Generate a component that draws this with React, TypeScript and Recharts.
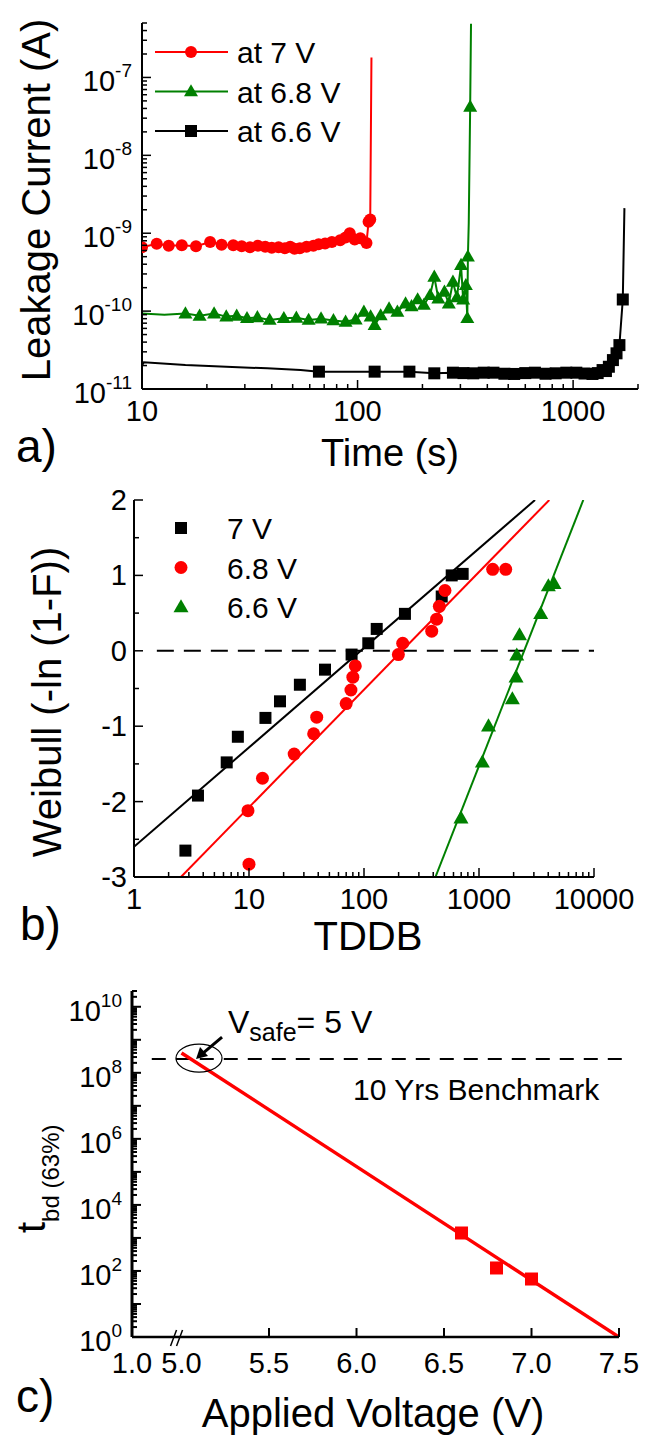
import React from "react";
import {
  ComposedChart,
  Line,
  Scatter,
  XAxis,
  YAxis,
  ReferenceLine,
  ReferenceDot,
} from "recharts";

const FONT = "'Liberation Sans', Arial, sans-serif";
const RED = "#ff0000";
const GREEN = "#008000";
const BLACK = "#000000";

// ---------- (a) leakage current vs stress time ----------
const time7V = [10, 11.7, 13.3, 15.3, 17.8, 20.7, 23.4, 26.5, 29, 31.7, 34.5, 37.3, 40, 43, 46, 48.7, 51, 54, 58, 62.4, 66, 70.7, 76, 83, 88, 92, 97, 103, 110, 112.5, 114.5, 116];
const current7V = [6.6e-10, 7.3e-10, 6.9e-10, 7.0e-10, 6.8e-10, 7.7e-10, 7.1e-10, 7.0e-10, 6.8e-10, 6.6e-10, 6.9e-10, 6.7e-10, 6.5e-10, 6.6e-10, 6.4e-10, 6.7e-10, 6.3e-10, 6.4e-10, 6.7e-10, 6.9e-10, 7.2e-10, 7.4e-10, 7.7e-10, 8.1e-10, 8.8e-10, 1.0e-9, 8.3e-10, 8.6e-10, 7.5e-10, 1.4e-9, 1.5e-9, 1.8e-7];
const bare7V = [116];

const time68V = [10, 12.7, 15.9, 18.5, 21.6, 24.6, 27.5, 30.7, 34.3, 39.1, 45.5, 52, 59.3, 67.7, 77.3, 88, 98, 107, 115, 120, 128, 140, 153, 167, 178, 190, 203, 217, 227, 237, 253, 265, 277, 289, 302, 309, 318, 323, 325, 328, 333, 336];
const current68V = [9.3e-11, 9.0e-11, 9.3e-11, 8.7e-11, 9.3e-11, 8.5e-11, 8.7e-11, 8.1e-11, 8.3e-11, 7.7e-11, 8.1e-11, 8.2e-11, 7.7e-11, 8.0e-11, 7.6e-11, 7.3e-11, 7.8e-11, 9.8e-11, 8.5e-11, 6.6e-11, 8.8e-11, 1.08e-10, 9.8e-11, 1.25e-10, 1.15e-10, 1.41e-10, 1.2e-10, 1.6e-10, 2.75e-10, 1.45e-10, 1.77e-10, 1.25e-10, 2.37e-10, 1.5e-10, 3.9e-10, 1.4e-10, 2.15e-10, 8.1e-11, 5.0e-10, 1.35e-9, 4.2e-8, 4.9e-7];
const bare68V = [10, 12.7, 328, 336];

const time66V = [10, 10.2, 15.9, 24.6, 38.1, 54.4, 66.2, 92, 120, 174, 227, 277, 310, 344, 385, 427, 480, 533, 600, 665, 745, 830, 930, 1035, 1130, 1230, 1300, 1370, 1420, 1465, 1530, 1590, 1640, 1700, 1730];
const current66V = [2.0e-11, 2.2e-11, 2.03e-11, 1.93e-11, 1.84e-11, 1.75e-11, 1.67e-11, 1.67e-11, 1.67e-11, 1.67e-11, 1.59e-11, 1.62e-11, 1.6e-11, 1.59e-11, 1.62e-11, 1.62e-11, 1.57e-11, 1.56e-11, 1.6e-11, 1.62e-11, 1.57e-11, 1.59e-11, 1.62e-11, 1.62e-11, 1.58e-11, 1.56e-11, 1.6e-11, 1.75e-11, 1.7e-11, 1.93e-11, 2.35e-11, 2.87e-11, 3.66e-11, 1.41e-10, 2.1e-9];
const bare66V = [10, 10.2, 15.9, 24.6, 38.1, 54.4, 92, 1730];

// ---------- (b) Weibull plot of TDDB ----------
const tddb7V = [2.8, 3.6, 6.4, 8.0, 13.9, 18.6, 27.7, 45.8, 78, 109, 129, 227, 474, 579, 721];
const weibull7V = [-2.65, -1.92, -1.48, -1.14, -0.89, -0.67, -0.45, -0.25, -0.05, 0.1, 0.29, 0.49, 0.72, 1.0, 1.02];
const fitTddb7V = [1, 3070];
const fitWeibull7V = [-2.6, 2];

const tddb68V = [10, 9.8, 13.1, 24.7, 36.5, 38.8, 70, 77, 80, 84, 199, 217, 388, 428, 452, 506, 1315, 1707];
const weibull68V = [-2.83, -2.12, -1.69, -1.37, -1.1, -0.88, -0.7, -0.52, -0.35, -0.2, -0.05, 0.1, 0.26, 0.42, 0.59, 0.8, 1.08, 1.08];
const fitTddb68V = [2.56, 4085];
const fitWeibull68V = [-3, 2];

const tddb66V = [697, 1070, 1210, 1950, 2100, 2130, 2250, 3440, 4010, 4490];
const weibull66V = [-2.22, -1.48, -1.0, -0.64, -0.35, -0.06, 0.21, 0.49, 0.86, 0.89];
const fitTddb66V = [418, 8070];
const fitWeibull66V = [-3, 2];

// ---------- (c) lifetime extrapolation ----------
const fitVoltage = [5.0, 7.5];
const fitLifetime = [4e8, 1];
const measVoltage = [6.6, 6.8, 7.0];
const measLifetime = [1410, 123, 57];
const benchmarkLifetime = 2.6e8;
const vsafeVoltage = 5.1;
const vsafeLifetime = 2.8e8;
const cXTicks = [4.717, 5.0, 5.5, 6.0, 6.5, 7.0, 7.5];
const cXTickLabels = ["1.0", "5.0", "5.5", "6.0", "6.5", "7.0", "7.5"];

const aSeries = [
  { name: "at 7 V", color: RED, shape: "circle", time: time7V, current: current7V, bare: bare7V },
  { name: "at 6.8 V", color: GREEN, shape: "triangle", time: time68V, current: current68V, bare: bare68V },
  { name: "at 6.6 V", color: BLACK, shape: "square", time: time66V, current: current66V, bare: bare66V },
];

const bSeries = [
  { name: "7 V", color: BLACK, shape: "square", tddb: tddb7V, weibull: weibull7V, fitT: fitTddb7V, fitW: fitWeibull7V },
  { name: "6.8 V", color: RED, shape: "circle", tddb: tddb68V, weibull: weibull68V, fitT: fitTddb68V, fitW: fitWeibull68V },
  { name: "6.6 V", color: GREEN, shape: "triangle", tddb: tddb66V, weibull: weibull66V, fitT: fitTddb66V, fitW: fitWeibull66V },
];

const aMarkerSize: Record<string, number> = { circle: 12, square: 12, triangle: 14 };
const bMarkerSize: Record<string, number> = { circle: 13, square: 12, triangle: 15 };

function Marker({ shape, cx, cy, size, color }: { shape: string; cx: number; cy: number; size: number; color: string }) {
  if (shape === "circle") return <circle cx={cx} cy={cy} r={size / 2} fill={color} />;
  if (shape === "square")
    return <rect x={cx - size / 2} y={cy - size / 2} width={size} height={size} fill={color} />;
  const h = size * 0.87;
  return (
    <path
      d={`M${cx},${cy - h * 0.6} L${cx + size / 2},${cy + h * 0.4} L${cx - size / 2},${cy + h * 0.4} Z`}
      fill={color}
    />
  );
}

const logTicks = (from: number, to: number, max: number) => {
  const out: number[] = [];
  for (let e = from; e <= to; e++)
    for (let m = 1; m <= 9; m++) {
      const v = m * Math.pow(10, e);
      if (v <= max * 1.0001) out.push(v);
    }
  return out;
};
const isDecade = (v: number) => Math.abs(Math.log10(v) - Math.round(Math.log10(v))) < 1e-6;

function yLogTick(showExp: (e: number) => boolean, width: number) {
  return (p: any) => {
    const v = p.payload.value as number;
    const e = Math.round(Math.log10(v));
    const dec = isDecade(v);
    return (
      <g key={`y-${v}`}>
        <line x1={p.x} y1={p.y} x2={p.x + (dec ? 9 : 5)} y2={p.y} stroke="#000" strokeWidth={width} />
        {dec && showExp(e) ? (
          <text x={p.x - 10} y={p.y + 14} textAnchor="end" fontFamily={FONT} fontSize={29} fill="#000">
            10
            <tspan fontSize={19} dy={-14}>
              {e}
            </tspan>
          </text>
        ) : null}
      </g>
    );
  };
}

function xLogTick(p: any) {
  const v = p.payload.value as number;
  const dec = isDecade(v);
  return (
    <g key={`x-${v}`}>
      <line x1={p.x} y1={p.y} x2={p.x} y2={p.y - (dec ? 9 : 5)} stroke="#000" strokeWidth={1.5} />
      {dec ? (
        <text x={p.x} y={p.y + 32} textAnchor="middle" fontFamily={FONT} fontSize={29} fill="#000">
          {String(Math.round(v))}
        </text>
      ) : null}
    </g>
  );
}

function PanelA() {
  return (
    <ComposedChart width={649} height={440} margin={{ top: 23, right: 11, bottom: 21, left: 0 }}>
      <XAxis
        type="number"
        dataKey="t"
        scale="log"
        domain={[10, 2000]}
        allowDataOverflow
        ticks={logTicks(1, 3, 2000)}
        interval={0}
        tickSize={0}
        tickMargin={0}
        height={30}
        axisLine={{ stroke: "#000", strokeWidth: 2 }}
        tick={xLogTick}
      />
      <YAxis
        type="number"
        dataKey="i"
        scale="log"
        domain={[1e-11, 5e-7]}
        allowDataOverflow
        ticks={logTicks(-11, -7, 5e-7)}
        interval={0}
        tickSize={0}
        tickMargin={0}
        width={142}
        axisLine={{ stroke: "#000", strokeWidth: 2 }}
        tick={yLogTick(() => true, 1.5)}
      />
      {[...aSeries].reverse().map((s) => {
        const skip = new Set(s.bare);
        const data = s.time.map((t, k) => ({ t, i: s.current[k] }));
        return (
          <Line
            key={s.name}
            data={data}
            dataKey="i"
            type="linear"
            stroke={s.color}
            strokeWidth={2}
            isAnimationActive={false}
            dot={(p: any) =>
              skip.has(p.payload.t) ? (
                <g key={`d-${p.index}`} />
              ) : (
                <g key={`d-${p.index}`}>
                  <Marker shape={s.shape} cx={p.cx} cy={p.cy} size={aMarkerSize[s.shape]} color={s.color} />
                </g>
              )
            }
            activeDot={false}
          />
        );
      })}
    </ComposedChart>
  );
}

function bYTick(p: any) {
  const v = p.payload.value as number;
  const major = Number.isInteger(v);
  return (
    <g key={`by-${v}`}>
      <line x1={p.x} y1={p.y} x2={p.x + (major ? 9 : 5)} y2={p.y} stroke="#000" strokeWidth={1.5} />
      {major ? (
        <text x={p.x - 7} y={p.y + 10} textAnchor="end" fontFamily={FONT} fontSize={29} fill="#000">
          {String(v)}
        </text>
      ) : null}
    </g>
  );
}

function PanelB() {
  return (
    <ComposedChart width={649} height={450} margin={{ top: 30, right: 55, bottom: 13, left: 0 }}>
      <XAxis
        type="number"
        dataKey="t"
        scale="log"
        domain={[1, 10000]}
        allowDataOverflow
        ticks={logTicks(0, 4, 10000)}
        interval={0}
        tickSize={0}
        tickMargin={0}
        height={30}
        axisLine={{ stroke: "#000", strokeWidth: 2 }}
        tick={xLogTick}
      />
      <YAxis
        type="number"
        dataKey="w"
        domain={[-3, 2]}
        allowDataOverflow
        ticks={[-3, -2.5, -2, -1.5, -1, -0.5, 0, 0.5, 1, 1.5, 2]}
        interval={0}
        tickSize={0}
        tickMargin={0}
        width={134}
        axisLine={{ stroke: "#000", strokeWidth: 2 }}
        tick={bYTick}
      />
      <ReferenceLine
        segment={[
          { x: 1.58, y: 0 },
          { x: 10000, y: 0 },
        ]}
        stroke="#000"
        strokeWidth={2}
        strokeDasharray="17 10"
      />
      {bSeries.map((s) => (
        <Line
          key={`fit-${s.name}`}
          data={s.fitT.map((t, k) => ({ t, w: s.fitW[k] }))}
          dataKey="w"
          type="linear"
          stroke={s.color}
          strokeWidth={2}
          dot={false}
          activeDot={false}
          isAnimationActive={false}
        />
      ))}
      {bSeries.map((s) => (
        <Scatter
          key={`pts-${s.name}`}
          data={s.tddb.map((t, k) => ({ t, w: s.weibull[k] }))}
          dataKey="w"
          fill={s.color}
          isAnimationActive={false}
          shape={(p: any) => (
            <Marker shape={s.shape} cx={p.cx} cy={p.cy} size={bMarkerSize[s.shape]} color={s.color} />
          )}
        />
      ))}
    </ComposedChart>
  );
}

function cXTick(p: any) {
  const v = p.payload.value as number;
  const k = cXTicks.indexOf(v);
  return (
    <g key={`cx-${v}`}>
      {k >= 2 ? <line x1={p.x} y1={p.y} x2={p.x} y2={p.y - 9} stroke="#000" strokeWidth={2} /> : null}
      {k === 1 ? (
        <g stroke="#000" strokeWidth={1.5}>
          <line x1={p.x - 11} y1={p.y + 9} x2={p.x - 5} y2={p.y - 7} />
          <line x1={p.x - 5} y1={p.y + 9} x2={p.x + 1} y2={p.y - 7} />
        </g>
      ) : null}
      <text x={p.x} y={p.y + 36} textAnchor="middle" fontFamily={FONT} fontSize={29} fill="#000">
        {cXTickLabels[k]}
      </text>
    </g>
  );
}

function PanelC() {
  return (
    <ComposedChart width={649} height={470} margin={{ top: 31, right: 30, bottom: 63, left: 0 }}>
      <XAxis
        type="number"
        dataKey="v"
        domain={[4.717, 7.5]}
        allowDataOverflow
        ticks={cXTicks}
        interval={0}
        tickSize={0}
        tickMargin={0}
        height={30}
        axisLine={{ stroke: "#000", strokeWidth: 2.5 }}
        tick={cXTick}
      />
      <YAxis
        type="number"
        dataKey="tbd"
        scale="log"
        domain={[1, 3e10]}
        allowDataOverflow
        ticks={logTicks(0, 10, 3e10)}
        interval={0}
        tickSize={0}
        tickMargin={0}
        width={132}
        axisLine={{ stroke: "#000", strokeWidth: 3 }}
        tick={yLogTick((e) => e % 2 === 0, 2)}
      />
      <ReferenceLine
        segment={[
          { x: 4.83, y: benchmarkLifetime },
          { x: 7.535, y: benchmarkLifetime },
        ]}
        ifOverflow="visible"
        stroke="#000"
        strokeWidth={2}
        strokeDasharray="14 10"
      />
      <Line
        data={fitVoltage.map((v, k) => ({ v, tbd: fitLifetime[k] }))}
        dataKey="tbd"
        type="linear"
        stroke={RED}
        strokeWidth={3.5}
        dot={false}
        activeDot={false}
        isAnimationActive={false}
      />
      <Scatter
        data={measVoltage.map((v, k) => ({ v, tbd: measLifetime[k] }))}
        dataKey="tbd"
        fill={RED}
        isAnimationActive={false}
        shape={(p: any) => <Marker shape="square" cx={p.cx} cy={p.cy} size={13} color={RED} />}
      />
      <ReferenceDot
        x={vsafeVoltage}
        y={vsafeLifetime}
        shape={(p: any) => (
          <g>
            <ellipse cx={p.cx} cy={p.cy} rx={23} ry={14} fill="none" stroke="#000" strokeWidth={1.2} />
            <line x1={p.cx + 23} y1={p.cy - 21} x2={p.cx + 4} y2={p.cy - 5} stroke="#000" strokeWidth={3} />
            <path
              d={`M${p.cx - 3},${p.cy + 1} L${p.cx + 1},${p.cy - 11} L${p.cx + 9},${p.cy - 2} Z`}
              fill="#000"
            />
          </g>
        )}
      />
    </ComposedChart>
  );
}

function Overlay() {
  const t = { fontFamily: FONT, fill: "#000" };
  return (
    <svg
      width={649}
      height={1437}
      style={{ position: "absolute", left: 0, top: 0, pointerEvents: "none" }}
    >
      {/* (a) legend and titles */}
      {aSeries.map((s, k) => {
        const y = 52 + k * 39.5;
        return (
          <g key={s.name}>
            <line x1={155} y1={y} x2={228} y2={y} stroke={s.color} strokeWidth={2} />
            <Marker shape={s.shape} cx={191} cy={y} size={aMarkerSize[s.shape]} color={s.color} />
            <text x={237} y={y + 11} fontSize={30} {...t}>
              {s.name}
            </text>
          </g>
        );
      })}
      <text transform="translate(50,200) rotate(-90)" textAnchor="middle" fontSize={40} {...t}>
        Leakage Current (A)
      </text>
      <text x={390} y={466} textAnchor="middle" fontSize={38} {...t}>
        Time (s)
      </text>
      <text x={16} y={462} fontSize={46} {...t}>
        a)
      </text>

      {/* (b) legend and titles */}
      {bSeries.map((s, k) => {
        const y = 528 + k * 39.5;
        return (
          <g key={s.name}>
            <Marker shape={s.shape} cx={181} cy={y} size={bMarkerSize[s.shape]} color={s.color} />
            <text x={227} y={y + 11} fontSize={30} {...t}>
              {s.name}
            </text>
          </g>
        );
      })}
      <text transform="translate(61,702) rotate(-90)" textAnchor="middle" fontSize={40} {...t}>
        Weibull (-ln (1-F))
      </text>
      <text x={368} y={950} textAnchor="middle" fontSize={40} {...t}>
        TDDB
      </text>
      <text x={20} y={940} fontSize={46} {...t}>
        b)
      </text>

      {/* (c) annotations and titles */}
      <text transform="translate(45,1233) rotate(-90)" fontSize={40} {...t}>
        t
        <tspan fontSize={24} dy={14}>
          bd (63%)
        </tspan>
      </text>
      <text x={228} y={1033} fontSize={32} {...t}>
        V
        <tspan fontSize={25} dy={8}>
          safe
        </tspan>
        <tspan dy={-8}>= 5 V</tspan>
      </text>
      <text x={353} y={1100} fontSize={30} {...t}>
        10 Yrs Benchmark
      </text>
      <text x={373} y={1427} textAnchor="middle" fontSize={40} {...t}>
        Applied Voltage (V)
      </text>
      <text x={16} y={1412} fontSize={46} {...t}>
        c)
      </text>
    </svg>
  );
}

export default function App() {
  return (
    <div
      style={{
        position: "absolute",
        left: 0,
        top: 0,
        width: 649,
        height: 1437,
        background: "#fff",
        fontFamily: FONT,
      }}
    >
      <div style={{ position: "absolute", left: 0, top: 0 }}>
        <PanelA />
      </div>
      <div style={{ position: "absolute", left: 0, top: 470 }}>
        <PanelB />
      </div>
      <div style={{ position: "absolute", left: 0, top: 960 }}>
        <PanelC />
      </div>
      <Overlay />
    </div>
  );
}
